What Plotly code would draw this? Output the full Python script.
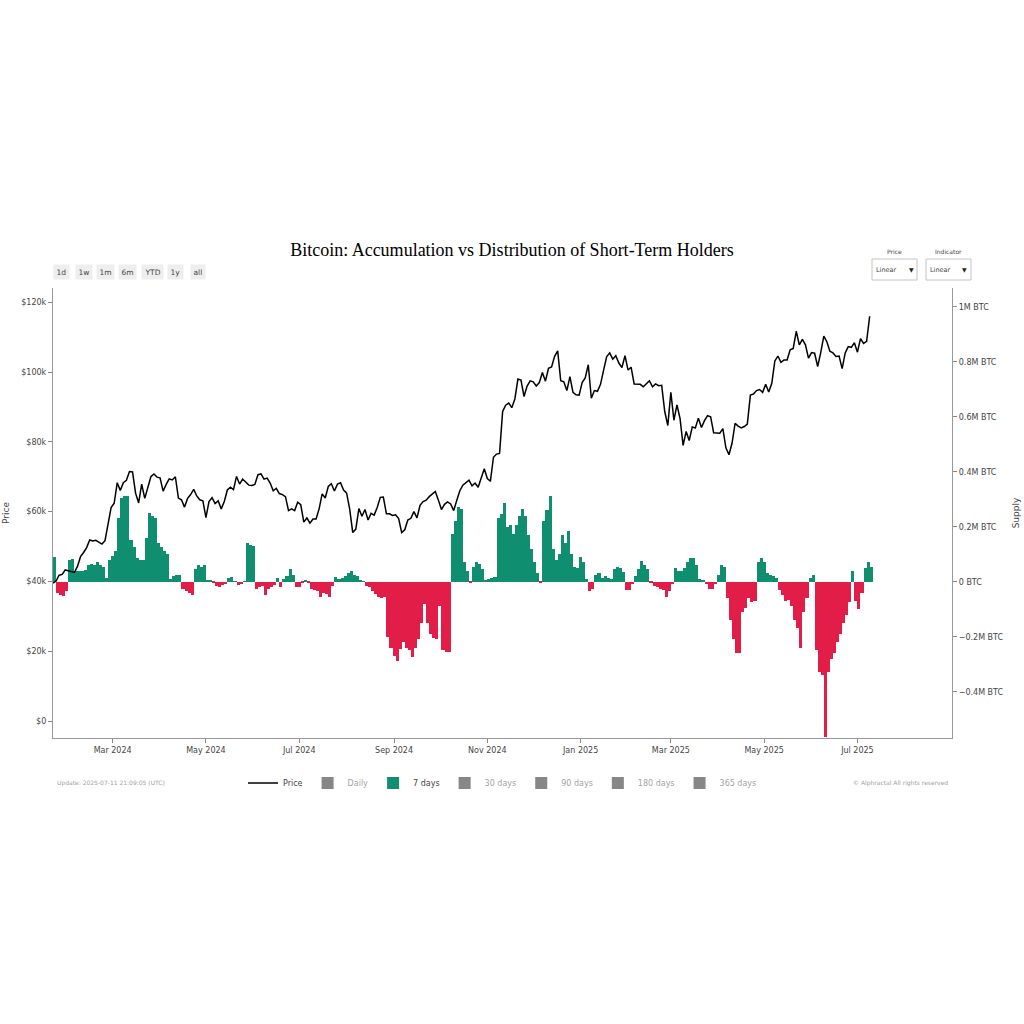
import plotly.graph_objects as go
import pandas as pd

# ---------------- data ----------------
start_date = "2024-01-22"
step_days = 2

# BTC price, thousands of USD, every 2 days from start_date
price_k = [
    39.5, 40.1, 41.8, 42.0, 43.3, 43.1, 43.0, 42.6, 44.3, 47.1,
    48.3, 49.7, 51.9, 51.6, 51.8, 51.3, 50.7, 51.7, 57.1, 61.2,
    62.4, 68.3, 66.1, 68.3, 69.0, 71.5, 71.4, 65.3, 62.5, 67.9,
    63.8, 67.2, 70.0, 70.8, 69.9, 69.7, 65.9, 67.8, 69.4, 69.1,
    70.0, 63.9, 63.4, 61.3, 63.8, 64.9, 66.4, 64.5, 63.4, 63.1,
    58.3, 62.9, 64.0, 62.3, 63.1, 60.8, 62.9, 66.2, 67.0, 66.3,
    70.1, 67.9, 69.3, 68.5, 67.6, 67.5, 67.8, 70.6, 70.8, 69.3,
    69.6, 68.2, 66.0, 66.7, 65.2, 64.9, 64.3, 60.3, 60.8, 60.3,
    62.7, 62.0, 57.0, 58.2, 56.7, 57.9, 57.9, 60.8, 65.1, 63.9,
    67.2, 68.0, 65.9, 67.9, 68.3, 66.2, 65.3, 60.7, 54.0, 55.0,
    60.9, 58.7, 60.6, 57.6, 59.5, 59.0, 61.2, 64.1, 64.2, 59.4,
    59.4, 58.9, 59.1, 58.0, 54.0, 54.8, 57.6, 58.1, 60.0, 58.2,
    61.8, 62.9, 63.3, 64.3, 65.2, 65.8, 63.3, 60.6, 62.1, 62.8,
    62.2, 60.3, 63.2, 66.0, 67.6, 68.4, 69.0, 67.4, 68.2, 67.0,
    69.9, 72.3, 69.5, 68.7, 75.6, 76.5, 76.7, 88.7, 90.5, 91.1,
    89.8, 92.3, 98.0, 97.7, 93.0, 96.0, 97.5, 97.2, 96.0, 97.0,
    99.9, 97.4, 101.1, 101.5, 104.5, 106.1, 97.5, 97.2, 94.7, 98.7,
    94.2, 93.5, 93.4, 97.0, 98.3, 102.1, 92.5, 94.7, 94.5, 96.5,
    100.5, 104.4, 105.5, 103.7, 104.7, 102.6, 101.3, 104.7, 100.6, 101.4,
    96.6, 96.5, 96.5, 95.8, 96.6, 97.5, 95.8, 96.6, 96.1, 96.2,
    88.7, 84.7, 94.2, 86.2, 90.6, 86.7, 79.0, 83.0, 80.4, 84.3,
    84.0, 86.8, 84.1, 86.1, 87.5, 87.2, 82.6, 82.5, 82.5, 83.8,
    78.3, 76.3, 79.6, 85.3, 84.5, 84.0, 84.4, 85.1, 93.4, 93.7,
    94.7, 95.0, 94.2, 96.5, 94.3, 96.8, 103.2, 104.6, 102.8, 103.5,
    103.5, 106.4, 106.8, 111.7, 107.8, 109.4, 107.8, 104.0, 105.6, 105.4,
    101.6, 105.6, 110.3, 108.7, 106.0, 105.5, 104.5, 104.6, 101.0, 105.5,
    107.3, 107.1, 108.4, 105.7, 109.6, 108.2, 108.8, 116.0,
]

# STH supply change over 7 days, thousands of BTC, every 2 days from start_date
change_7d_kbtc = [
    90, -40, -48, -52, -35, 80, 82, 40, 38, 40,
    42, 62, 65, 60, 72, 62, 55, 12, 80, 95,
    110, 230, 305, 313, 310, 150, 125, 85, 80, 78,
    160, 250, 240, 230, 140, 125, 110, 100, 10, 20,
    25, 25, -25, -35, -42, -50, 45, 60, 55, 60,
    5, 3, -5, -15, -18, -12, -10, 12, 16, 2,
    -12, -8, 2, 140, 135, 130, -25, -20, -15, -50,
    -25, -20, -12, 15, -20, 10, 20, 45, 25, -18,
    -20, -5, 6, -5, -25, -30, -35, -55, -40, -45,
    -55, -15, 18, 8, 15, 22, 30, 40, 25, 20,
    3, 2,
    -15, -20, -35, -45, -55, -60, -55, -200, -240, -270,
    -290, -245, -220, -240, -250, -275, -240, -210, -150, -80,
    -150, -190, -205, -210, -90, -250, -255, -255, 175, 220,
    270, 265, 70, 40, -3, 55, 70, 65, 45, 5,
    10, 15, 18, 230, 245, 285, 200, 205, 175, 205,
    240, 265, 240, 170, 120, 70, 30, -3, 220, 260,
    310, 120, 80, 100, 170, 140, 185, 100, 55, 50,
    90, 70, 10, -35, -25, 25, 30, 15, 20, 12,
    8, 45, 55, 50, 35, -30, -32, -10, 20, 45,
    75, 60, 45, -5, -15, -20, -25, -30, -55, -35,
    -10, 50, 40, 40, 50, 70, 85, 85, 60, 8,
    5, -10, -28, -25, -10, 25, 60, 55, -60, -140,
    -210, -260, -260, -110, -95, -60, -75, -70, 70, 85,
    70, 30, 25, 20, 15, -30, -50, -70, -65, -90,
    -140, -170, -240, -110, -60, 15, 25, -250, -330, -340,
    -565, -330, -280, -260, -220, -190, -150, -120, -75, 40,
    -70, -100, -40, 50, 70, 55,
]

hidden_series = ["Daily", "30 days", "90 days", "180 days", "365 days"]
supply_tickvals = [-400000, -200000, 0, 200000, 400000, 600000, 800000, 1000000]
supply_ticktext = ["\u22120.4M BTC", "\u22120.2M BTC", "0 BTC", "0.2M BTC",
                   "0.4M BTC", "0.6M BTC", "0.8M BTC", "1M BTC"]
range_buttons = ["1d", "1w", "1m", "6m", "YTD", "1y", "all"]
scale_labels = ["Price", "Indicator"]
scale_choice = ["Linear", "Linear"]

# ---------------- styling ----------------
GREEN = "#0f8f6f"
RED = "#e11d48"
FONT = "DejaVu Sans, Verdana, sans-serif"
DAY_MS = 86400000

# plot area in page pixels (for placing decorations in paper coordinates)
PL, PR, PT, PB = 52.7, 952.0, 288.0, 738.0


def px_x(px):
    return (px - PL) / (PR - PL)


def px_y(py):
    return (PB - py) / (PB - PT)


price_dates = pd.date_range(start_date, periods=len(price_k), freq=f"{step_days}D")
bar_dates = pd.date_range(start_date, periods=len(change_7d_kbtc), freq=f"{step_days}D")
bar_vals = [v * 1000 for v in change_7d_kbtc]
bar_colors = [GREEN if v >= 0 else RED for v in change_7d_kbtc]

fig = go.Figure()

fig.add_trace(go.Scatter(
    x=price_dates, y=[p * 1000 for p in price_k], name="Price", mode="lines",
    line=dict(color="#000000", width=1.5), yaxis="y2",
))

fig.add_trace(go.Bar(
    x=bar_dates, y=bar_vals, name=hidden_series[0], visible="legendonly",
    marker=dict(color="#111111", line=dict(width=0)), yaxis="y",
))

fig.add_trace(go.Bar(
    x=bar_dates, y=bar_vals, name="7 days",
    marker=dict(color=bar_colors, line=dict(width=0)),
    width=step_days * DAY_MS, offset=0, yaxis="y",
))

for name in hidden_series[1:]:
    fig.add_trace(go.Bar(
        x=bar_dates, y=bar_vals, name=name, visible="legendonly",
        marker=dict(color="#111111", line=dict(width=0)), yaxis="y",
    ))

annotations = []
shapes = []

# range-selector style buttons
btn_px = [61, 83.5, 105.5, 127.5, 152, 175.5, 197.5]
for label, px in zip(range_buttons, btn_px):
    annotations.append(dict(
        text=label, xref="paper", yref="paper",
        x=px_x(px), y=px_y(272), xanchor="center", yanchor="middle",
        showarrow=False, bgcolor="#eeeeee", borderpad=2.5,
        font=dict(family=FONT, size=7.5, color="#444"),
    ))

# scale selector boxes (Price / Indicator)
box_left = [872, 926]
for lab, choice, bx in zip(scale_labels, scale_choice, box_left):
    shapes.append(dict(type="rect", xref="paper", yref="paper",
                       x0=px_x(bx), x1=px_x(bx + 45), y0=px_y(280), y1=px_y(259),
                       line=dict(color="#c4c4c4", width=1), fillcolor="#ffffff", layer="above"))
    annotations.append(dict(text=lab, xref="paper", yref="paper", x=px_x(bx + 22.5), y=px_y(252),
                            xanchor="center", yanchor="middle", showarrow=False,
                            font=dict(family=FONT, size=6, color="#444")))
    annotations.append(dict(text=choice, xref="paper", yref="paper", x=px_x(bx + 14), y=px_y(269.5),
                            xanchor="center", yanchor="middle", showarrow=False,
                            font=dict(family=FONT, size=6.5, color="#444")))
    annotations.append(dict(text="\u25bc", xref="paper", yref="paper", x=px_x(bx + 39), y=px_y(269),
                            xanchor="center", yanchor="middle", showarrow=False,
                            font=dict(family=FONT, size=6, color="#222")))

# footer
annotations.append(dict(text="Update: 2025-07-11 21:09:05 (UTC)", xref="paper", yref="paper",
                        x=px_x(55), y=px_y(783), xanchor="left", yanchor="middle", showarrow=False,
                        font=dict(family=FONT, size=6, color="#a0a0a0")))
annotations.append(dict(text="\u00a9 Alphractal All rights reserved", xref="paper", yref="paper",
                        x=px_x(950), y=px_y(783), xanchor="right", yanchor="middle", showarrow=False,
                        font=dict(family=FONT, size=6, color="#a0a0a0")))

axis_common = dict(
    ticks="outside", ticklen=4, tickcolor="#888",
    showline=True, linecolor="#999", linewidth=1.3,
    showgrid=False, zeroline=False, automargin=False,
    tickfont=dict(family=FONT, size=8, color="#444"),
)

fig.update_layout(
    width=1024, height=1024,
    margin=dict(l=53, r=72, t=288, b=286, autoexpand=False),
    paper_bgcolor="#ffffff", plot_bgcolor="#ffffff",
    font=dict(family=FONT, size=8, color="#444"),
    title=dict(text="Bitcoin: Accumulation vs Distribution of Short-Term Holders",
               x=0.5, xref="container", xanchor="center",
               y=1 - 250 / 1024, yref="container", yanchor="middle",
               font=dict(family="Liberation Serif, Times New Roman, serif", size=18, color="#000")),
    bargap=0,
    showlegend=True,
    legend=dict(orientation="h", x=0.5, xanchor="center", y=px_y(783), yanchor="middle",
                font=dict(family=FONT, size=8, color="#444"), bgcolor="rgba(0,0,0,0)"),
    xaxis=dict(
        axis_common, type="date", range=["2024-01-22", "2025-08-31 20:00"],
        tick0="2024-03-01", dtick="M2", tickformat="%b %Y",
    ),
    yaxis=dict(
        axis_common, side="right", range=[-568400, 1068000],
        tickvals=supply_tickvals, ticktext=supply_ticktext,
        title=dict(text="Supply", standoff=10, font=dict(family=FONT, size=9, color="#444")),
    ),
    yaxis2=dict(
        axis_common, overlaying="y", side="left", range=[-4870, 124100],
        tick0=0, dtick=20000, tickprefix="$", tickformat="~s",
        title=dict(text="Price", standoff=10, font=dict(family=FONT, size=9, color="#444")),
    ),
    annotations=annotations,
    shapes=shapes,
)

fig.write_html("out.html")
